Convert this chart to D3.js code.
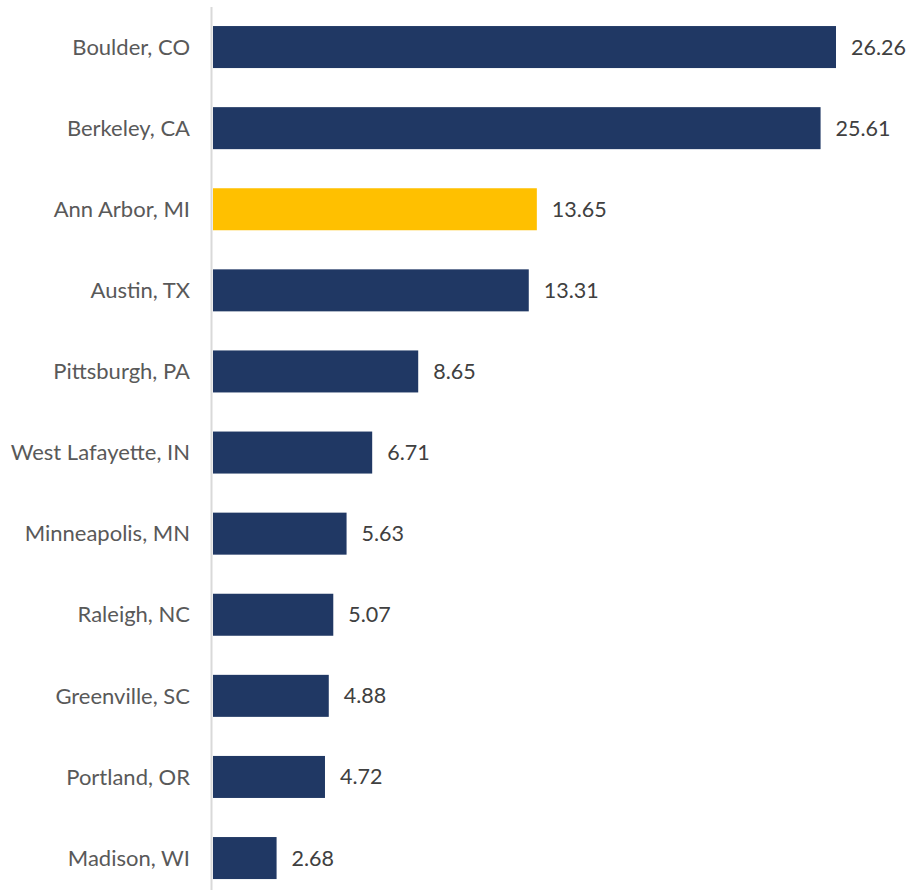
<!DOCTYPE html>
<html>
<head>
<meta charset="utf-8">
<script src="https://cdn.jsdelivr.net/npm/d3@7"></script>
<style>
  html, body { margin: 0; padding: 0; background: #fff; }
  svg { display: block; }
</style>
</head>
<body>
<svg id="chart" width="921" height="890"></svg>
<script>
// Cities, ranked top to bottom
const cities = [
  "Boulder, CO", "Berkeley, CA", "Ann Arbor, MI", "Austin, TX", "Pittsburgh, PA",
  "West Lafayette, IN", "Minneapolis, MN", "Raleigh, NC", "Greenville, SC",
  "Portland, OR", "Madison, WI"
];
const values = [26.26, 25.61, 13.65, 13.31, 8.65, 6.71, 5.63, 5.07, 4.88, 4.72, 2.68];
const highlighted = ["Ann Arbor, MI"];

const data = cities.map((c, i) => ({ city: c, value: values[i] }));

const svg = d3.select("#chart");
const width = 921, height = 890;
const font = "Lato, 'Open Sans', sans-serif";

const x = d3.scaleLinear()
  .domain([0, 26.26])
  .range([213, 836]);

const y = d3.scaleBand()
  .domain(cities)
  .range([6.5, 898.6])
  .paddingInner(0.482)
  .paddingOuter(0.241);

// bars
svg.append("g")
  .selectAll("rect")
  .data(data)
  .join("rect")
  .attr("x", x(0))
  .attr("y", d => y(d.city))
  .attr("width", d => x(d.value) - x(0))
  .attr("height", y.bandwidth())
  .attr("fill", d => highlighted.includes(d.city) ? "#FFC000" : "#203864");

// category axis line
svg.append("line")
  .attr("x1", 211.5).attr("x2", 211.5)
  .attr("y1", 7).attr("y2", height)
  .attr("stroke", "#d9d9d9")
  .attr("stroke-width", 2);

// category labels
svg.append("g")
  .selectAll("text")
  .data(data)
  .join("text")
  .attr("x", 190)
  .attr("y", d => y(d.city) + y.bandwidth() / 2)
  .attr("dy", "0.35em")
  .attr("text-anchor", "end")
  .attr("font-family", font)
  .attr("font-size", 22)
  .attr("fill", "#595959")
  .text(d => d.city);

// value labels
svg.append("g")
  .selectAll("text")
  .data(data)
  .join("text")
  .attr("x", d => x(d.value) + 15)
  .attr("y", d => y(d.city) + y.bandwidth() / 2)
  .attr("dy", "0.35em")
  .attr("font-family", font)
  .attr("font-size", 21.5)
  .attr("fill", "#404040")
  .text(d => d.value.toFixed(2));
</script>
</body>
</html>
